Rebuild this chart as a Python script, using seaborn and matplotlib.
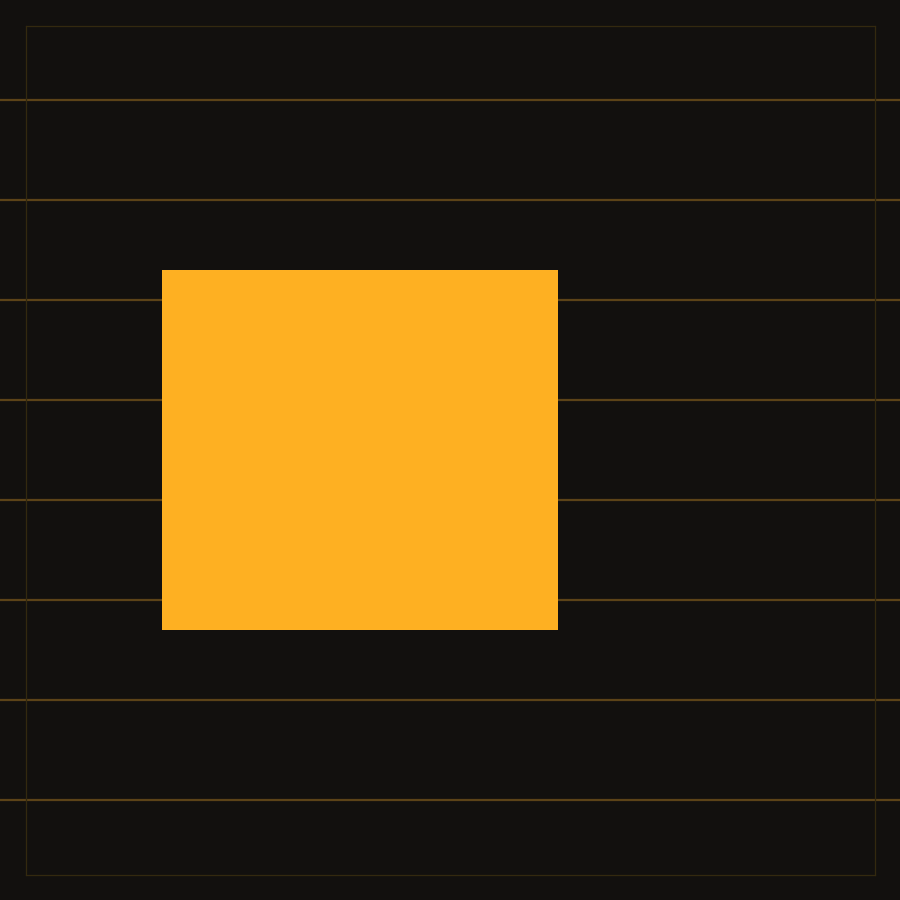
import matplotlib
matplotlib.use("Agg")
import pandas as pd
import seaborn as sns
import matplotlib.pyplot as plt

# Data: one floating bar (range from low to high)
categories = ["A"]
low_values = [2.7]
high_values = [6.3]
grid_levels = [1, 2, 3, 4, 5, 6, 7, 8]

BG = "#12100e"
BAR = "#feb022"
GRID = "#5c4318"
FRAME = "#33290f"

df = pd.DataFrame({
    "category": categories,
    "span": [h - l for h, l in zip(high_values, low_values)],
    "low": low_values,
})

sns.set_theme(style="dark")

fig = plt.figure(figsize=(9, 9), dpi=100, facecolor=BG)
ax = fig.add_axes([0, 0, 1, 1], facecolor=BG)

sns.barplot(
    data=df, x="category", y="span", ax=ax,
    color=BAR, saturation=1, width=0.8,
    bottom=df["low"].values, linewidth=0, zorder=3,
)

ax.set_ylim(-0.005, 8.995)
ax.set_xlim(-0.7273, 1.0909)
ax.set_yticks(grid_levels)
ax.yaxis.grid(True, color=GRID, linewidth=1.6, zorder=0)
ax.xaxis.grid(False)
ax.set_axisbelow(True)
ax.tick_params(left=False, bottom=False, labelleft=False, labelbottom=False)
ax.set_xlabel("")
ax.set_ylabel("")
for s in ax.spines.values():
    s.set_visible(False)

# thin inner frame
frame = fig.add_axes([25.5 / 900, 25.5 / 900, 849 / 900, 849 / 900])
frame.patch.set_alpha(0)
frame.set_xticks([])
frame.set_yticks([])
for s in frame.spines.values():
    s.set_visible(True)
    s.set_color(FRAME)
    s.set_linewidth(0.9)

fig.savefig("out.png", dpi=100, facecolor=BG)
plt.close(fig)
